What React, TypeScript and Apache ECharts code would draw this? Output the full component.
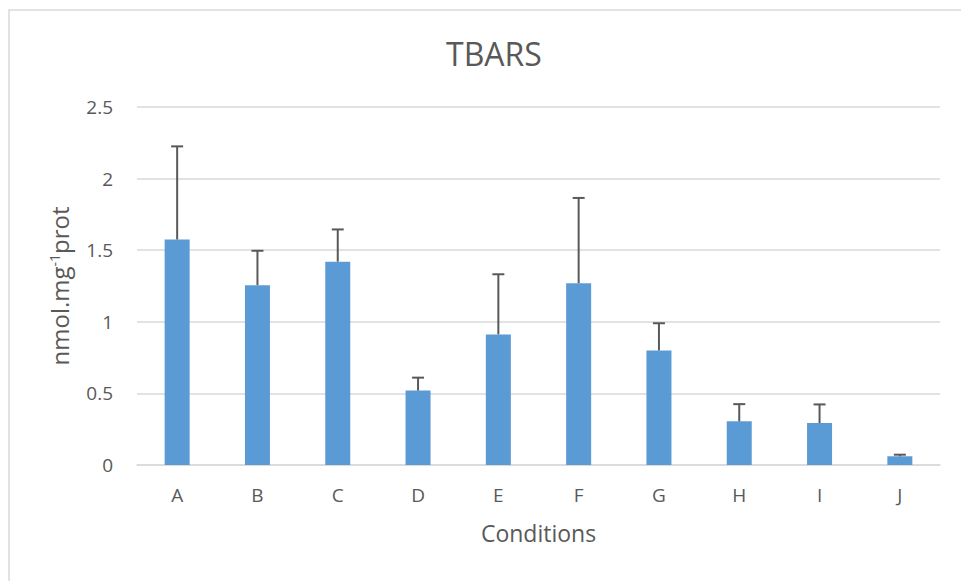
import React, { useEffect, useRef } from "react";
import * as echarts from "echarts";

const categories = ["A", "B", "C", "D", "E", "F", "G", "H", "I", "J"];
const values = [1.575, 1.256, 1.42, 0.52, 0.912, 1.27, 0.8, 0.305, 0.293, 0.061];
const errors = [0.65, 0.24, 0.225, 0.09, 0.42, 0.595, 0.19, 0.12, 0.13, 0.011];
const yTicks = [0, 0.5, 1, 1.5, 2, 2.5];

const FONT = "'Open Sans', 'Noto Sans', sans-serif";
const TEXT = "#595959";

export default function App() {
  const ref = useRef<HTMLDivElement>(null);
  useEffect(() => {
    if (!ref.current) return;
    const chart = echarts.init(ref.current, null, { renderer: "svg" });
    chart.setOption({
      animation: false,
      backgroundColor: "#ffffff",
      textStyle: { fontFamily: FONT },
      title: {
        text: "TBARS",
        left: 441,
        top: 32,
        textStyle: { fontFamily: FONT, fontSize: 32, fontWeight: "normal", color: TEXT },
      },
      graphic: [
        {
          type: "rect",
          shape: { x: 9, y: 10, width: 1100, height: 1100 },
          style: { fill: "none", stroke: "#d9d9d9", lineWidth: 1.5 },
          silent: true,
        },
      ],
      grid: { left: 137, right: 21, top: 107, bottom: 116 },
      xAxis: {
        type: "category",
        data: categories,
        name: "Conditions",
        nameLocation: "middle",
        nameGap: 56,
        nameTextStyle: { fontFamily: FONT, fontSize: 23, color: TEXT },
        axisLine: { lineStyle: { color: "#d9d9d9", width: 1.5 } },
        axisTick: { show: false },
        axisLabel: { fontFamily: FONT, fontSize: 19, color: TEXT, margin: 20 },
      },
      yAxis: {
        type: "value",
        min: yTicks[0],
        max: yTicks[yTicks.length - 1],
        interval: 0.5,
        name: "{a|nmol.mg}{s|-1}{a|prot}",
        nameLocation: "middle",
        nameRotate: 90,
        nameGap: 66,
        nameTextStyle: {
          rich: {
            a: { fontFamily: FONT, fontSize: 24, color: TEXT },
            s: { fontFamily: FONT, fontSize: 14, color: TEXT, verticalAlign: "top", padding: [0, 0, 10, 0] },
          },
        },
        axisLine: { show: false },
        axisTick: { show: false },
        splitLine: { lineStyle: { color: "#d9d9d9", width: 1.5 } },
        axisLabel: { fontFamily: FONT, fontSize: 19, color: TEXT, margin: 24 },
      },
      series: [
        {
          type: "bar",
          data: values,
          barWidth: 25,
          itemStyle: { color: "#5b9bd5" },
          z: 2,
        },
        {
          type: "custom",
          z: 3,
          data: categories.map((c, i) => [i, values[i], values[i] + errors[i]]),
          renderItem: (params: any, api: any) => {
            const x = api.value(0);
            const p0 = api.coord([x, api.value(1)]);
            const p1 = api.coord([x, api.value(2)]);
            const st = { stroke: "#595959", lineWidth: 2 };
            return {
              type: "group",
              children: [
                { type: "line", shape: { x1: p0[0], y1: p0[1], x2: p1[0], y2: p1[1] }, style: st },
                { type: "line", shape: { x1: p1[0] - 6, y1: p1[1], x2: p1[0] + 6, y2: p1[1] }, style: st },
              ],
            };
          },
        },
      ],
    });
    return () => chart.dispose();
  }, []);
  return (
    <div
      ref={ref}
      style={{ position: "fixed", left: 0, top: 0, width: 961, height: 581 }}
    />
  );
}
